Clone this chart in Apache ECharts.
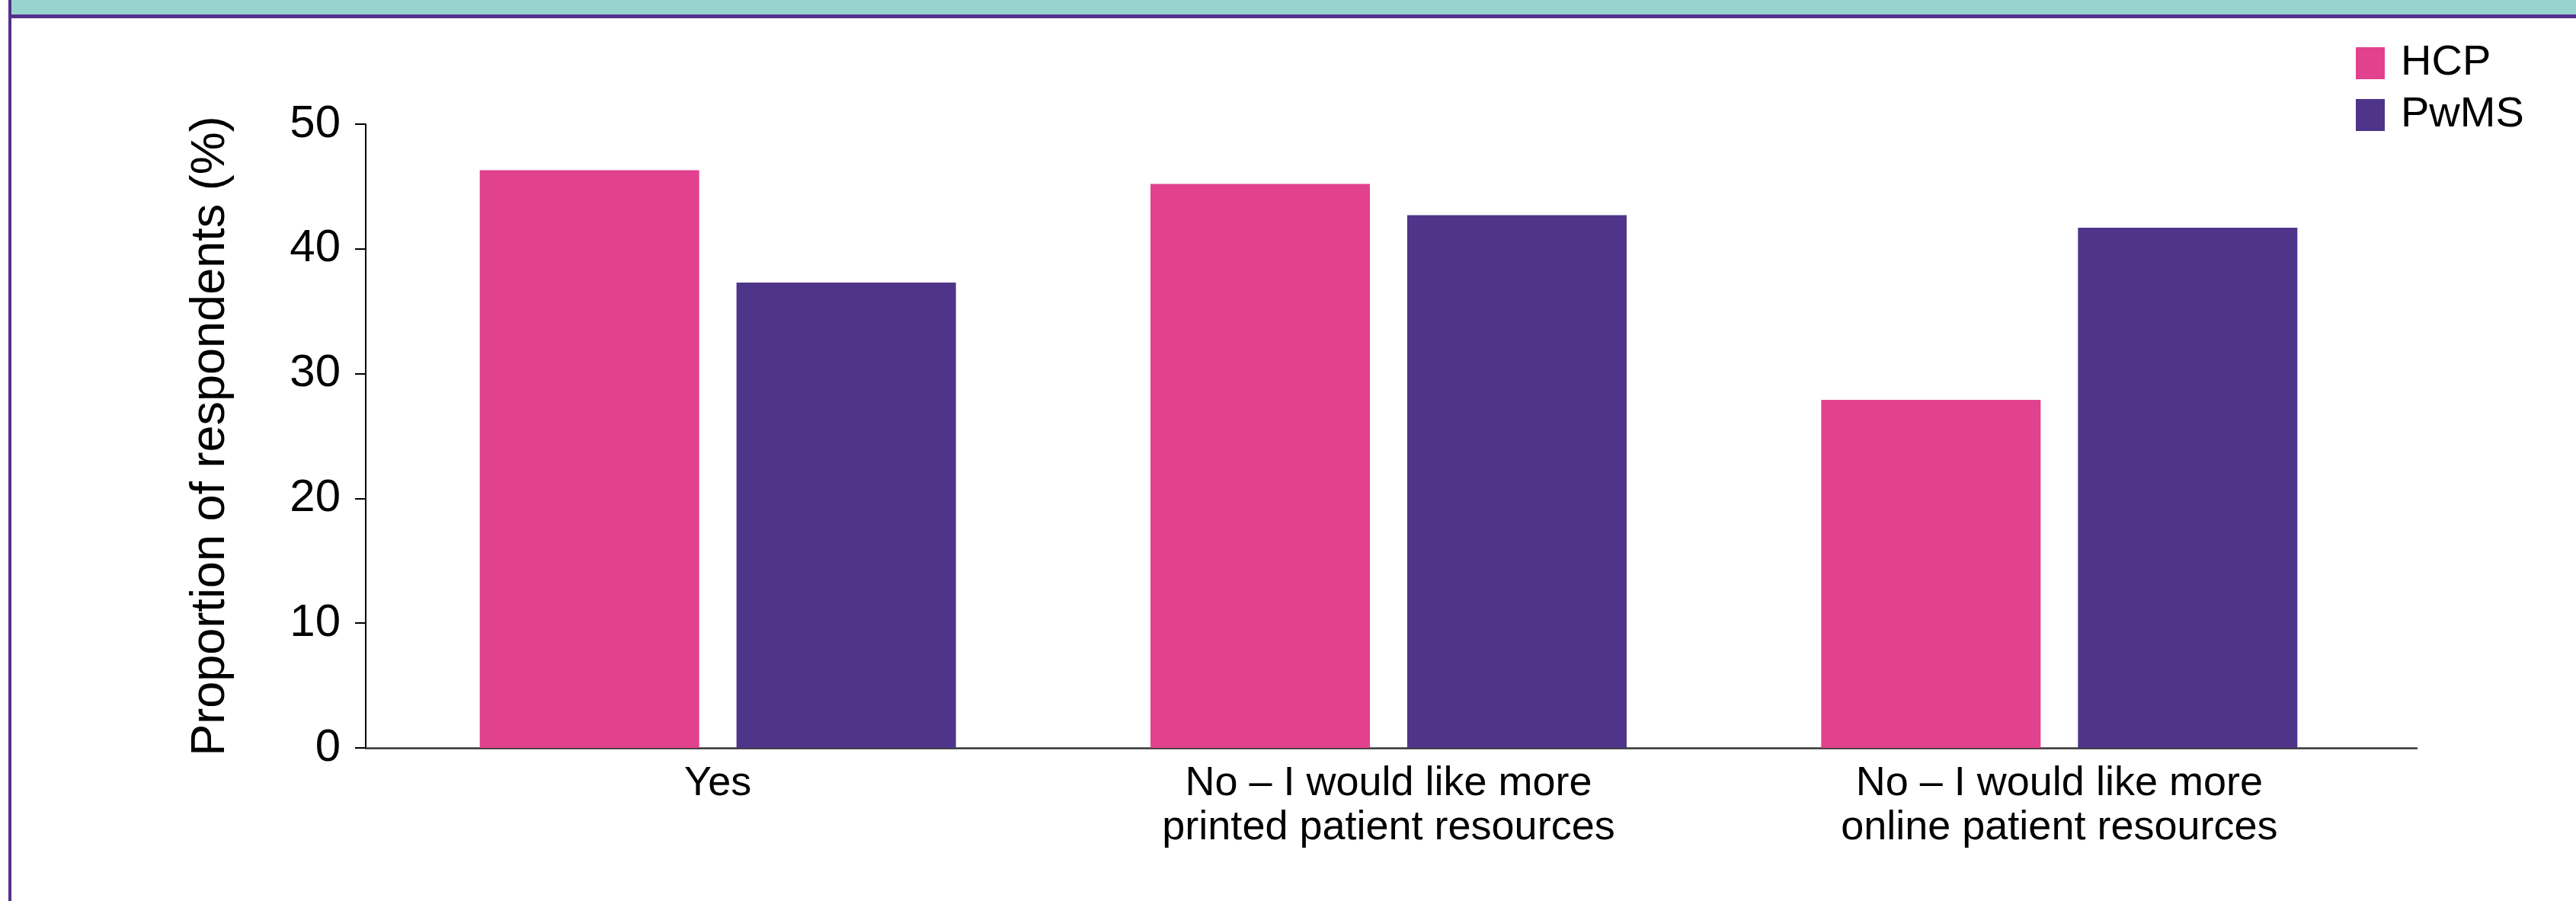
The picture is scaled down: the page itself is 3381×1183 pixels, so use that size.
<!DOCTYPE html>
<html>
<head>
<meta charset="utf-8">
<script src="https://cdn.jsdelivr.net/npm/echarts@6/dist/echarts.min.js"></script>
<style>
  html, body { margin: 0; padding: 0; background: #ffffff; }
  #chart { width: 3381px; height: 1183px; }
</style>
</head>
<body>
<div id="chart"></div>
<script>
// ---- data ----
const categories = [
  'Yes',
  'No \u2013 I would like more\nprinted patient resources',
  'No \u2013 I would like more\nonline patient resources'
];
const seriesNames = ['HCP', 'PwMS'];
const hcpValues = [46.3, 45.2, 27.9];
const pwmsValues = [37.3, 42.7, 41.7];
const yTicks = [0, 10, 20, 30, 40, 50];
const yTitle = 'Proportion of respondents (%)';

// ---- style ----
const PINK = '#e2418e';
const PURPLE = '#4f358a';
const FONT = '"Liberation Sans", Arial, Helvetica, sans-serif';

const chart = echarts.init(document.getElementById('chart'), null, { renderer: 'canvas' });

const option = {
  backgroundColor: '#ffffff',
  animation: false,
  textStyle: { fontFamily: FONT, color: '#000' },
  graphic: [
    { type: 'rect', shape: { x: 15, y: 0, width: 3366, height: 20 }, style: { fill: '#99d3cf' }, silent: true },
    { type: 'rect', shape: { x: 11, y: 19, width: 3370, height: 5 }, style: { fill: '#54308a' }, silent: true },
    { type: 'rect', shape: { x: 11, y: 0, width: 4, height: 1183 }, style: { fill: '#54308a' }, silent: true }
  ],
  legend: {
    data: seriesNames,
    orient: 'vertical',
    left: 3087,
    top: 50,
    icon: 'rect',
    itemWidth: 38,
    itemHeight: 42,
    itemGap: 12,
    textStyle: { fontSize: 56, color: '#000', fontFamily: FONT, padding: [0, 0, 0, 16] }
  },
  grid: [
    { left: 502, right: 238, top: 163, bottom: 201, containLabel: false },
    { left: 480, right: 209, top: 163, bottom: 201, containLabel: false }
  ],
  xAxis: [
    {
      type: 'category',
      gridIndex: 0,
      data: categories,
      axisLine: { show: false },
      axisTick: { show: false },
      axisLabel: {
        fontSize: 54,
        lineHeight: 58,
        color: '#000',
        margin: 18,
        fontFamily: FONT,
        interval: 0
      }
    },
    {
      type: 'category',
      gridIndex: 1,
      data: categories,
      axisLine: { show: true, lineStyle: { color: '#333', width: 2.5 } },
      axisTick: { show: false },
      axisLabel: { show: false }
    }
  ],
  yAxis: [
    {
      type: 'value',
      gridIndex: 0,
      min: yTicks[0],
      max: yTicks[yTicks.length - 1],
      interval: 10,
      offset: 22,
      name: yTitle,
      nameLocation: 'middle',
      nameRotate: 90,
      nameGap: 172,
      nameTextStyle: { fontSize: 63, color: '#000', fontFamily: FONT },
      axisLine: { show: true, lineStyle: { color: '#000', width: 2 } },
      axisTick: { show: true, length: 14, lineStyle: { color: '#000', width: 2 } },
      axisLabel: { fontSize: 60, color: '#000', margin: 33, fontFamily: FONT },
      splitLine: { show: false }
    },
    {
      type: 'value',
      gridIndex: 1,
      min: 0,
      max: 50,
      show: false
    }
  ],
  series: [
    {
      name: seriesNames[0],
      type: 'bar',
      xAxisIndex: 0,
      yAxisIndex: 0,
      data: hcpValues,
      barWidth: 288,
      barGap: '17%',
      itemStyle: { color: PINK }
    },
    {
      name: seriesNames[1],
      type: 'bar',
      xAxisIndex: 0,
      yAxisIndex: 0,
      data: pwmsValues,
      barWidth: 288,
      barGap: '17%',
      itemStyle: { color: PURPLE }
    }
  ]
};

chart.setOption(option);
</script>
</body>
</html>
